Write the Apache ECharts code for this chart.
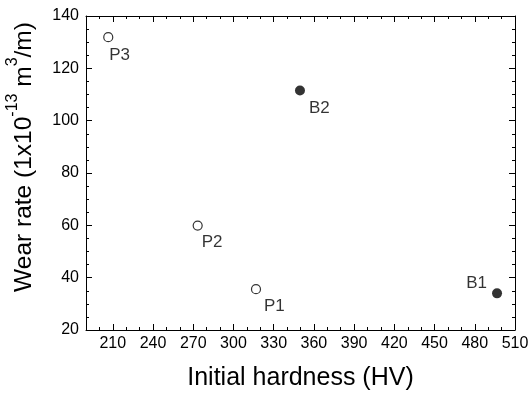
<!DOCTYPE html>
<html>
<head>
<meta charset="utf-8">
<script src="https://cdn.jsdelivr.net/npm/echarts@6.0.0/dist/echarts.min.js"></script>
<style>
  html, body { margin: 0; padding: 0; background: #fff; }
  #chart { width: 530px; height: 394px; }
</style>
</head>
<body>
<div id="chart"></div>
<script>
// P samples (open circles) and B samples (filled circles)
const pNames = ['P1', 'P2', 'P3'];
const pHardness = [316.8, 273.3, 206.6];
const pWear = [35.6, 59.9, 131.9];

const bNames = ['B1', 'B2'];
const bHardness = [496.6, 349.6];
const bWear = [34.0, 111.5];

const xMajorTicks = [210, 240, 270, 300, 330, 360, 390, 420, 450, 480, 510];

// label placement per point (style only)
const labelPos = {
  P1: { align: 'left', offset: [8, 17] },
  P2: { align: 'left', offset: [4, 17] },
  P3: { align: 'left', offset: [1, 18] },
  B1: { align: 'right', offset: [-10, -10] },
  B2: { align: 'left', offset: [9, 18] }
};

const font = 'Liberation Sans, Arial, sans-serif';

function points(names, xs, ys) {
  return names.map((n, i) => ({
    name: n,
    value: [xs[i], ys[i]],
    label: {
      show: true,
      formatter: n,
      position: 'inside',
      align: labelPos[n].align,
      verticalAlign: 'middle',
      offset: labelPos[n].offset,
      color: '#000',
      fontSize: 17,
      fontFamily: font
    }
  }));
}

const chart = echarts.init(document.getElementById('chart'));

const lineStyle = { color: '#000', width: 1 };

const xBase = {
  type: 'value',
  min: 190,
  max: 510,
  splitLine: { show: false }
};

const option = {
  animation: false,
  grid: { left: 86, right: 15, top: 16, bottom: 64, containLabel: false, outerBoundsMode: 'none' },
  xAxis: [
    Object.assign({}, xBase, {
      position: 'bottom',
      interval: 10,
      axisLine: { lineStyle: lineStyle },
      axisTick: { inside: true, length: 3, lineStyle: lineStyle },
      axisLabel: { show: false },
      name: 'Initial hardness (HV)',
      nameLocation: 'middle',
      nameGap: 36,
      nameMoveOverlap: false,
      nameTextStyle: { fontSize: 25, color: '#000', fontFamily: font }
    }),
    Object.assign({}, xBase, {
      position: 'bottom',
      axisLine: { show: false },
      axisTick: { inside: true, length: 6, lineStyle: lineStyle, customValues: xMajorTicks },
      axisLabel: { customValues: xMajorTicks, fontSize: 16, color: '#000', fontFamily: font, margin: 6 }
    }),
    Object.assign({}, xBase, {
      position: 'top',
      interval: 10,
      axisLine: { lineStyle: lineStyle },
      axisTick: { inside: true, length: 3, lineStyle: lineStyle },
      axisLabel: { show: false }
    }),
    Object.assign({}, xBase, {
      position: 'top',
      axisLine: { show: false },
      axisTick: { inside: true, length: 6, lineStyle: lineStyle, customValues: xMajorTicks },
      axisLabel: { show: false }
    })
  ],
  yAxis: [
    {
      type: 'value',
      min: 20,
      max: 140,
      interval: 20,
      position: 'left',
      splitLine: { show: false },
      axisLine: { lineStyle: lineStyle },
      axisTick: { inside: true, length: 6, lineStyle: lineStyle },
      minorTick: { show: true, splitNumber: 4, length: 3, lineStyle: lineStyle },
      axisLabel: { fontSize: 16, color: '#000', fontFamily: font, margin: 7 },
      name: 'Wear rate (1x10{sup|-13} m{sup|3}/m)',
      nameLocation: 'middle',
      nameGap: 43,
      nameMoveOverlap: false,
      nameTextStyle: {
        fontSize: 24.5,
        lineHeight: 38,
        color: '#000',
        fontFamily: font,
        padding: [0, 0, 0, 32],
        rich: {
          sup: { fontSize: 16, lineHeight: 16, verticalAlign: 'top', color: '#000', fontFamily: font }
        }
      }
    },
    {
      type: 'value',
      min: 20,
      max: 140,
      interval: 20,
      position: 'right',
      splitLine: { show: false },
      axisLine: { lineStyle: lineStyle },
      axisTick: { inside: true, length: 6, lineStyle: lineStyle },
      minorTick: { show: true, splitNumber: 4, length: 3, lineStyle: lineStyle },
      axisLabel: { show: false }
    }
  ],
  series: [
    {
      name: 'P',
      type: 'scatter',
      symbol: 'circle',
      symbolSize: 9,
      itemStyle: { color: '#fff', borderColor: '#000', borderWidth: 1.2 },
      data: points(pNames, pHardness, pWear)
    },
    {
      name: 'B',
      type: 'scatter',
      symbol: 'circle',
      symbolSize: 10,
      itemStyle: { color: '#000' },
      data: points(bNames, bHardness, bWear)
    }
  ]
};

chart.setOption(option);
</script>
</body>
</html>
